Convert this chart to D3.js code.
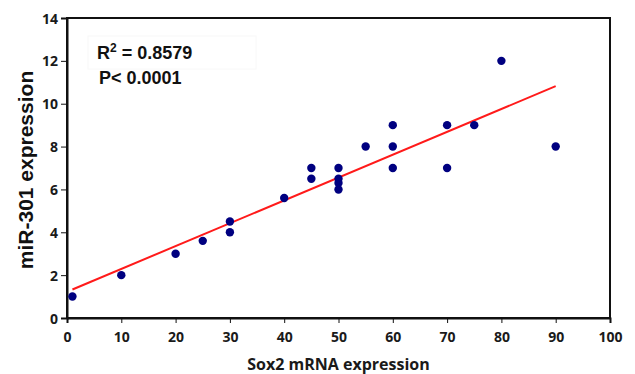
<!DOCTYPE html>
<html lang="en">
<head>
    <meta charset="UTF-8">
    <title>miR-301 vs Sox2</title>
    <style>
        body{
            margin:0;
            background:#fff;
        }
        .tick text{
            font-family:"Open Sans", sans-serif;
            font-weight:bold;
            font-size:14px;
            fill:#1a1a1a;
        }
    </style>
    <script src="https://cdn.jsdelivr.net/npm/d3@7/dist/d3.min.js"></script>
</head>
<body>
<div id="container"></div>
<script>

var sox2 = [1, 10, 20, 25, 30, 30, 40, 45, 45, 50, 50, 50, 50, 55, 60, 60, 60, 70, 70, 75, 80, 90];
var mir301 = [1, 2, 3, 3.6, 4.5, 4, 5.6, 7, 6.5, 7, 6.5, 6.3, 6, 8, 9, 8, 7, 9, 7, 9, 12, 8];

// fitted line ends
var trendX = [1, 90];
var trendY = [1.33, 10.82];

var xTicks = [0, 10, 20, 30, 40, 50, 60, 70, 80, 90, 100];
var yTicks = [0, 2, 4, 6, 8, 10, 12, 14];

var w = 635;
var h = 374;
var margin = {top: 18, right: 25, bottom: 56, left: 67};
var iw = w - margin.left - margin.right;
var ih = h - margin.top - margin.bottom;

var xScale = d3.scaleLinear().domain([0, 100]).range([0, iw]);
var yScale = d3.scaleLinear().domain([0, 14]).range([ih, 0]);

var svg = d3.select("#container")
        .append("svg")
        .attr("width", w)
        .attr("height", h);

var g = svg.append("g")
        .attr("transform", "translate(" + margin.left + "," + margin.top + ")");

//frame
g.append("rect")
        .attr("x", 0)
        .attr("y", 0)
        .attr("width", iw)
        .attr("height", ih)
        .attr("fill", "none")
        .attr("stroke", "#111")
        .attr("stroke-width", 2);

//axes
var xAxis = g.append("g")
        .attr("transform", "translate(0," + ih + ")")
        .call(d3.axisBottom(xScale).tickValues(xTicks).tickSize(5).tickPadding(9));

var yAxis = g.append("g")
        .call(d3.axisLeft(yScale).tickValues(yTicks).tickSize(6).tickPadding(3));

[xAxis, yAxis].forEach(function(a) {
    a.select(".domain").attr("stroke", "#111").attr("stroke-width", 2);
    a.selectAll(".tick line").attr("stroke", "#111").attr("stroke-width", 1);
});
yAxis.selectAll(".tick text").attr("dy", "0.36em");

//faint box behind stats
g.append("rect")
        .attr("x", 21)
        .attr("y", 18)
        .attr("width", 168)
        .attr("height", 33)
        .attr("fill", "none")
        .attr("stroke", "#f8f8f8");

//trend line
g.append("line")
        .attr("x1", xScale(trendX[0]))
        .attr("y1", yScale(trendY[0]))
        .attr("x2", xScale(trendX[1]))
        .attr("y2", yScale(trendY[1]))
        .attr("stroke", "#ff1a1a")
        .attr("stroke-width", 2);

//points
g.selectAll("circle")
        .data(sox2)
        .enter()
        .append("circle")
        .attr("cx", function(d) {
            return xScale(d);
        })
        .attr("cy", function(d, i) {
            return yScale(mir301[i]);
        })
        .attr("r", 4.2)
        .attr("fill", "#000080");

//stats text
var stat = g.append("text")
        .attr("x", 30)
        .attr("y", 40.5)
        .attr("font-family", "Liberation Sans, Arial, sans-serif")
        .attr("font-weight", "bold")
        .attr("font-size", "18px")
        .attr("fill", "#111");
stat.append("tspan").text("R");
stat.append("tspan").attr("dy", "-7").attr("font-size", "12px").text("2");
stat.append("tspan").attr("dy", "7").text(" = 0.8579");

g.append("text")
        .attr("x", 32)
        .attr("y", 65.5)
        .attr("font-family", "Liberation Sans, Arial, sans-serif")
        .attr("font-weight", "bold")
        .attr("font-size", "18px")
        .attr("fill", "#111")
        .text("P< 0.0001");

//axis labels
svg.append("text")
        .attr("x", margin.left + iw / 2)
        .attr("y", 370)
        .attr("text-anchor", "middle")
        .attr("font-family", "Open Sans, sans-serif")
        .attr("font-weight", "bold")
        .attr("font-size", "16px")
        .attr("fill", "#1a1a1a")
        .text("Sox2 mRNA expression");

svg.append("text")
        .attr("transform", "translate(33,170) rotate(-90)")
        .attr("text-anchor", "middle")
        .attr("font-family", "Liberation Sans, Arial, sans-serif")
        .attr("font-weight", "bold")
        .attr("font-size", "21px")
        .attr("fill", "#111")
        .text("miR-301 expression");

</script>
</body>
</html>
